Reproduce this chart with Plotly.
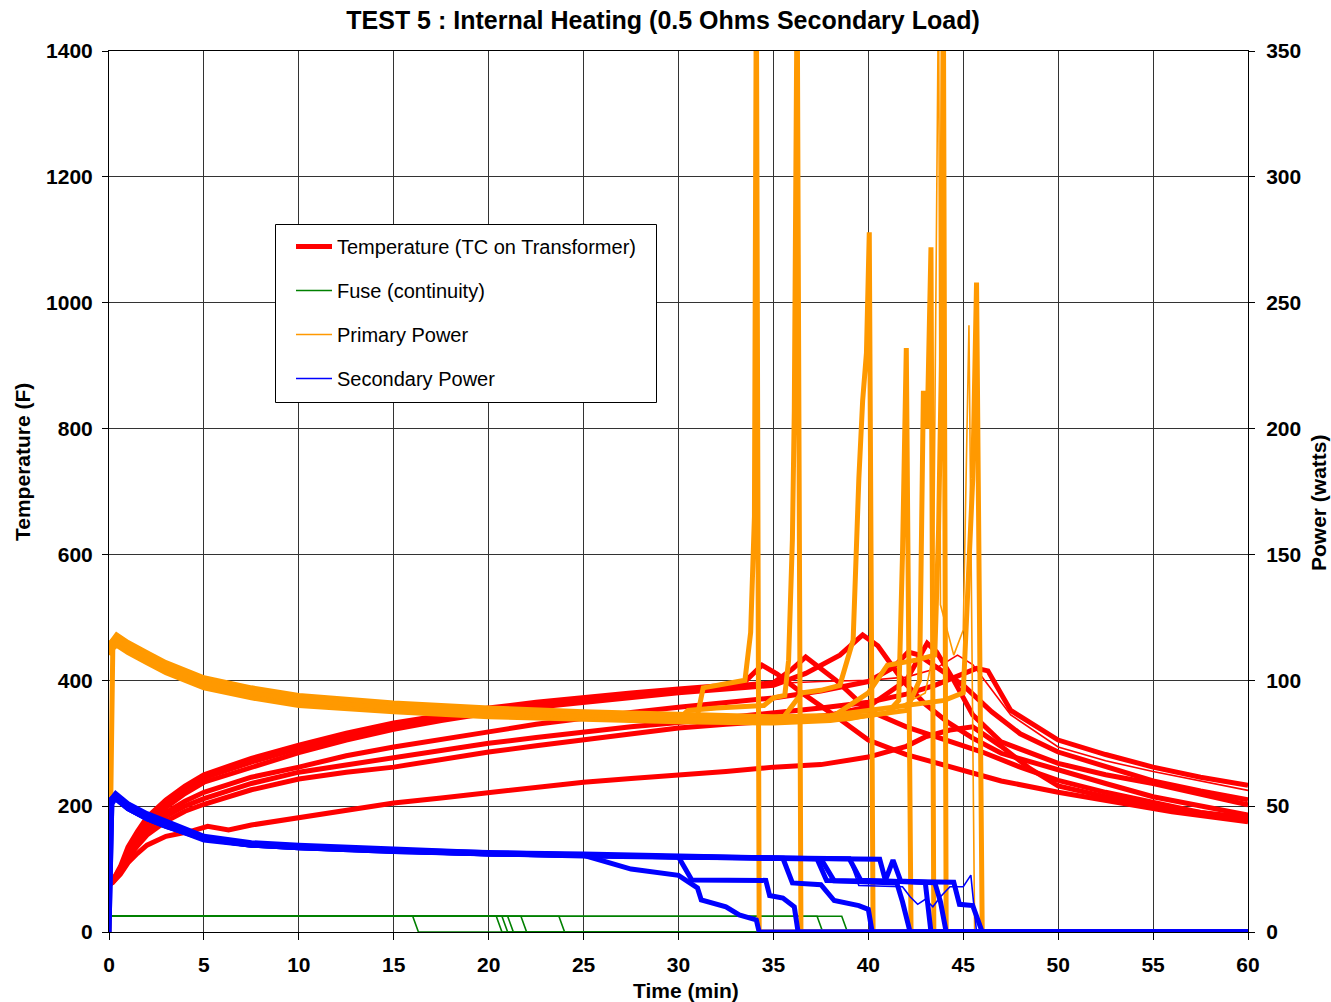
import plotly.graph_objects as go

# ---------------- DATA ----------------
# Temperature (F) per test: time (min), value
temp1_t = [0, 0.2, 0.6, 1, 1.5, 2, 3, 4, 5, 7.5, 10, 12.5, 15, 17.5, 20, 22.5, 25, 27.5, 30, 32, 33.5, 34.4, 35.2, 36.5, 38.5, 40, 42, 44.5, 47, 50, 53, 56, 60]
temp1_v = [78, 82, 104, 135, 160, 182, 210, 232, 250, 276, 297, 316, 332, 345, 356, 365, 373, 380, 386, 391, 398, 424, 410, 380, 338, 305, 282, 260, 240, 222, 206, 191, 175]
temp2_t = [0, 0.2, 0.6, 1, 1.5, 2, 3, 4, 5, 7.5, 10, 12.5, 15, 17.5, 20, 22.5, 25, 27.5, 30, 32.5, 35, 36, 36.7, 38.3, 40, 42, 44, 46, 48, 50, 52.5, 55, 57.5, 60]
temp2_v = [76, 80, 100, 130, 155, 178, 205, 228, 245, 270, 292, 311, 328, 341, 353, 362, 370, 377, 384, 390, 396, 418, 437, 400, 352, 326, 306, 286, 262, 241, 222, 205, 190, 178]
temp3_t = [0, 0.2, 0.6, 1, 1.5, 2, 3, 4, 5, 7.5, 10, 12.5, 15, 17.5, 20, 22.5, 25, 27.5, 30, 32.5, 35, 36.7, 38.5, 39.7, 40.5, 41.8, 43, 44.2, 45.5, 47, 50, 52.5, 55, 57.5, 60]
temp3_v = [77, 81, 102, 128, 152, 172, 198, 220, 238, 262, 285, 305, 322, 336, 348, 357, 365, 373, 380, 386, 392, 411, 440, 472, 455, 400, 362, 333, 308, 284, 257, 236, 215, 200, 186]
temp4_t = [0, 0.2, 0.6, 1, 1.5, 2, 3, 4, 5, 7.5, 10, 12.5, 15, 17.5, 20, 22.5, 25, 27.5, 30, 32.5, 35, 37.5, 40, 41.3, 42.1, 42.6, 43.6, 45, 46.5, 48, 50, 52.5, 55, 57.5, 60]
temp4_v = [75, 80, 98, 122, 145, 165, 190, 208, 222, 246, 262, 280, 294, 307, 318, 330, 340, 349, 357, 365, 372, 383, 398, 420, 445, 441, 421, 392, 350, 315, 286, 262, 240, 224, 210]
temp5_t = [0, 0.2, 0.6, 1, 1.5, 2, 3, 4, 5, 7.5, 10, 12.5, 15, 17.5, 20, 22.5, 25, 27.5, 30, 32.5, 35, 38, 40, 42, 43.1, 43.6, 44.5, 45.5, 47, 50, 52.5, 55, 57.5, 60]
temp5_v = [76, 79, 95, 117, 137, 154, 176, 192, 203, 226, 243, 254, 262, 275, 286, 296, 305, 315, 324, 330, 335, 345, 358, 400, 459, 445, 400, 345, 302, 268, 250, 236, 218, 202]
temp6_t = [0, 0.2, 0.6, 1, 1.5, 2, 3, 4.3, 5.2, 6.3, 7.5, 10, 12.5, 15, 17.5, 20, 22.5, 25, 27.5, 30, 32.5, 35, 37.5, 40, 42, 43, 44.3, 45.5, 47, 48.5, 50, 52.5, 55, 57.5, 60]
temp6_v = [75, 79, 92, 110, 125, 138, 152, 160, 168, 162, 170, 182, 193, 205, 213, 222, 230, 238, 244, 249, 255, 262, 266, 278, 295, 310, 321, 326, 295, 260, 232, 215, 200, 190, 182]
temp7_t = [0, 0.2, 0.6, 1, 1.5, 2, 3, 4, 5, 7.5, 10, 12.5, 15, 17.5, 20, 22.5, 25, 27.5, 30, 32.5, 35, 37.5, 40, 42, 43.5, 45, 45.7, 46.3, 47.5, 50, 52.5, 55, 57.5, 60]
temp7_v = [76, 80, 96, 120, 142, 160, 184, 200, 212, 236, 254, 266, 276, 289, 300, 309, 318, 326, 333, 340, 348, 356, 365, 378, 392, 410, 419, 415, 352, 305, 282, 262, 246, 233]
temp8_t = [0, 0.2, 0.6, 1, 1.5, 2, 3, 4, 5, 7.5, 10, 12.5, 15, 17.5, 20, 22.5, 25, 27.5, 30, 32.5, 35, 37.5, 40, 42, 43.5, 44.7, 45.5, 46.5, 47.5, 50, 52.5, 55, 57.5, 60]
temp8_v = [77, 81, 103, 133, 158, 180, 207, 230, 247, 273, 294, 313, 329, 342, 354, 363, 371, 378, 385, 390, 395, 398, 400, 405, 418, 440, 425, 385, 345, 294, 272, 255, 240, 225]

# Fuse continuity (plotted on temperature axis): level, drop start/end times
fuse_level = 25
fuse_drop_start = [16.0, 20.4, 20.7, 21.0, 21.7, 23.7, 37.3, 38.6]
fuse_drop_end = [16.3, 20.7, 21.0, 21.3, 22.0, 24.0, 37.6, 38.9]

# Primary power (watts)
prim1_t = [0, 0.2, 0.4, 1, 2, 3, 5, 7.5, 10, 15, 20, 25, 30, 31, 31.3, 33.5, 33.8, 34.0, 34.1, 34.25, 60]
prim1_v = [0, 113, 117, 114, 110, 106, 100, 96, 93, 90, 88, 86.5, 85.5, 86, 97, 100, 119, 165, 380, 0, 0]
prim2_t = [0, 0.1, 0.4, 1, 2, 3, 5, 7.5, 10, 15, 20, 25, 30, 30.5, 32, 34.5, 35, 35.6, 35.8, 36.0, 36.1, 36.25, 36.45, 60]
prim2_v = [112, 114, 116, 113, 109, 105, 99, 95, 92, 89, 87, 85.5, 84.5, 88, 89, 90, 93, 94, 108, 156, 207, 380, 0, 0]
prim3_t = [0, 0.1, 0.4, 1, 2, 3, 5, 7.5, 10, 15, 20, 25, 30, 33, 35.5, 36.5, 37.5, 38.5, 39.2, 39.5, 39.7, 39.9, 40.05, 40.25, 60]
prim3_v = [111, 113, 115, 112, 108, 104, 98, 94, 91, 88, 86, 85, 84, 84, 85, 95, 96, 98, 116, 180, 211, 230, 278, 0, 0]
prim4_t = [0, 0.1, 0.4, 1, 2, 3, 5, 7.5, 10, 15, 20, 25, 30, 35, 38, 40, 41, 41.6, 41.8, 42.0, 42.25, 60]
prim4_v = [113, 115, 117, 114, 110, 106, 100, 96, 93, 90, 88, 86.5, 85.5, 85, 85.5, 86, 87, 92, 150, 232, 0, 0]
prim5_t = [0, 0.1, 0.4, 1, 2, 3, 5, 7.5, 10, 15, 20, 25, 30, 35, 38, 40, 42, 42.7, 42.9, 43.1, 43.3, 43.45, 60]
prim5_v = [110, 112, 114, 111, 107, 103, 97, 93, 90, 87.5, 85.5, 84.5, 83.5, 83, 84, 86, 88, 100, 215, 200, 272, 0, 0]
prim6_t = [0, 0.1, 0.4, 1, 2, 3, 5, 7.5, 10, 15, 20, 25, 30, 35, 38, 40, 41, 42.5, 43.5, 43.7, 43.85, 43.95, 44.1, 60]
prim6_v = [112, 114, 116, 113, 109, 105, 99, 95, 92, 89, 87, 86, 85, 84.5, 85, 95, 106, 108, 110, 160, 226, 380, 0, 0]
prim7_t = [0, 0.1, 0.4, 1, 2, 3, 5, 7.5, 10, 15, 20, 25, 30, 35, 38, 40, 42, 44, 45, 45.5, 45.7, 46.0, 60]
prim7_v = [113, 115, 118, 115, 111, 107, 101, 97, 94, 91, 89, 87.5, 86.5, 85.5, 86, 88, 90, 92, 95, 180, 258, 0, 0]
prim8_t = [0, 0.1, 0.4, 1, 2, 3, 5, 7.5, 10, 15, 20, 25, 30, 35, 39, 41, 43, 43.4, 43.7, 43.8, 44.5, 45.0, 45.3, 45.6, 60]
prim8_v = [111, 113, 115, 112, 108, 104, 98, 94, 91, 88, 86, 85, 84, 83.5, 84, 87, 95, 110, 380, 130, 110, 120, 241, 0, 0]

# Secondary power (watts)
sec1_t = [0, 0.15, 0.35, 1, 2, 3, 5, 7.5, 10, 15, 20, 25, 27.5, 30, 31, 31.2, 32.5, 33.2, 34.1, 34.25, 60]
sec1_v = [0, 52, 54, 50, 46, 43, 37.5, 35, 34, 32.5, 31.2, 30.5, 25, 22.5, 17.5, 12.7, 10, 6.8, 4.8, 0, 0]
sec2_t = [0, 0.15, 0.35, 1, 2, 3, 5, 7.5, 10, 15, 20, 25, 30, 30.7, 34.6, 34.8, 35.5, 36.1, 36.3, 60]
sec2_v = [51, 52, 53, 49, 45, 42, 37, 34.5, 33.5, 32, 31, 30.5, 29.8, 20.7, 20.5, 14.5, 13.5, 10, 0, 0]
sec3_t = [0, 0.15, 0.35, 1, 2, 3, 5, 7.5, 10, 15, 20, 25, 30, 35.5, 36, 37.5, 38.2, 39.5, 40.0, 40.2, 60]
sec3_v = [52, 53, 55, 51, 47, 44, 38, 35.5, 34.5, 33, 31.5, 31, 30, 29.3, 19.5, 18.8, 12.5, 10.5, 9, 0, 0]
sec4_t = [0, 0.15, 0.35, 1, 2, 3, 5, 7.5, 10, 15, 20, 25, 30, 35, 37.5, 38.2, 41.5, 41.8, 42.2, 60]
sec4_v = [0, 51, 53, 49, 45, 42, 37, 34.5, 33.5, 32, 31, 30.5, 29.8, 29.3, 29.1, 20.3, 19.5, 12, 0, 0]
sec5_t = [0, 0.15, 0.35, 1, 2, 3, 5, 7.5, 10, 15, 20, 25, 30, 35, 40.6, 40.9, 41.3, 41.7, 43.0, 43.3, 60]
sec5_v = [50, 52, 53, 49, 45, 42, 36.5, 34.5, 33.5, 32, 31, 30.2, 29.7, 29.2, 28.9, 20.5, 28.6, 20.3, 19.7, 0, 0]
sec6_t = [0, 0.15, 0.35, 1, 2, 3, 5, 7.5, 10, 15, 20, 25, 30, 35, 39, 39.6, 43.5, 43.8, 44.1, 60]
sec6_v = [51, 53, 54, 50, 46, 43, 37.5, 35, 34, 32.5, 31.3, 30.6, 29.9, 29.4, 29.1, 20.6, 19.6, 12, 0, 0]
sec7_t = [0, 0.15, 0.35, 1, 2, 3, 5, 7.5, 10, 15, 20, 25, 30, 35, 37.3, 37.8, 44.5, 44.8, 45.5, 46.0, 60]
sec7_v = [52, 53, 54, 50, 46, 43, 37.5, 35, 34, 32.3, 31, 30.4, 29.6, 29.1, 29, 20.5, 19.8, 11, 10.5, 0, 0]
sec8_t = [0, 0.15, 0.35, 1, 2, 3, 5, 7.5, 10, 15, 20, 25, 30, 35, 39, 39.5, 41.8, 42.2, 42.6, 43, 43.4, 43.8, 44.3, 45.0, 45.4, 45.7, 60]
sec8_v = [51, 52, 53, 49, 45, 42, 37, 34.5, 33.5, 32, 31, 30.4, 29.5, 29, 28.8, 18.5, 18, 14, 11, 13, 10, 14, 18, 18, 22.6, 0, 0]

x_ticks = [0, 5, 10, 15, 20, 25, 30, 35, 40, 45, 50, 55, 60]
temp_ticks = [0, 200, 400, 600, 800, 1000, 1200, 1400]
power_ticks = [0, 50, 100, 150, 200, 250, 300, 350]

# ---------------- STYLE ----------------
RED = "#FF0000"
GREEN = "#008000"
ORANGE = "#FF9900"
BLUE = "#0000FF"
THICK = 5
THIN = 1.6
FONT = "Liberation Sans, Arial, sans-serif"

# plot-area pixel geometry
L, R, T, B = 109, 1248, 51, 932
W_PLOT = R - L
H_PLOT = B - T


def px_x(px):
    return (px - L) / W_PLOT


def px_y(py):
    return (B - py) / H_PLOT


temps = [(temp1_t, temp1_v, THICK), (temp2_t, temp2_v, THICK), (temp3_t, temp3_v, THICK),
         (temp4_t, temp4_v, THICK), (temp5_t, temp5_v, THICK), (temp6_t, temp6_v, THICK),
         (temp7_t, temp7_v, THICK), (temp8_t, temp8_v, THIN)]
prims = [(prim1_t, prim1_v, THICK), (prim2_t, prim2_v, THICK), (prim3_t, prim3_v, THICK),
         (prim4_t, prim4_v, THICK), (prim5_t, prim5_v, THICK), (prim6_t, prim6_v, THICK),
         (prim7_t, prim7_v, THICK), (prim8_t, prim8_v, THIN)]
secs = [(sec1_t, sec1_v, THICK), (sec2_t, sec2_v, THICK), (sec3_t, sec3_v, THICK),
        (sec4_t, sec4_v, THICK), (sec5_t, sec5_v, THICK), (sec6_t, sec6_v, THICK),
        (sec7_t, sec7_v, THICK), (sec8_t, sec8_v, THIN)]

fig = go.Figure()

for t, v, w in temps:
    fig.add_trace(go.Scatter(x=t, y=v, mode="lines", line=dict(color=RED, width=w),
                             showlegend=False, yaxis="y", hoverinfo="skip"))

for ts, te in zip(fuse_drop_start, fuse_drop_end):
    fig.add_trace(go.Scatter(x=[0, ts, te, 60], y=[fuse_level, fuse_level, 0, 0], mode="lines",
                             line=dict(color=GREEN, width=1.6), showlegend=False,
                             yaxis="y", hoverinfo="skip"))

for t, v, w in prims:
    fig.add_trace(go.Scatter(x=t, y=v, mode="lines", line=dict(color=ORANGE, width=w),
                             showlegend=False, yaxis="y2", hoverinfo="skip"))

for t, v, w in secs:
    fig.add_trace(go.Scatter(x=t, y=v, mode="lines", line=dict(color=BLUE, width=w),
                             showlegend=False, yaxis="y2", hoverinfo="skip"))

# legend entries
legend_items = [("Temperature (TC on Transformer)", RED, 5),
                ("Fuse (continuity)", GREEN, 1.6),
                ("Primary Power", ORANGE, 1.6),
                ("Secondary Power", BLUE, 1.6)]
for i, (name, col, w) in enumerate(legend_items):
    fig.add_trace(go.Scatter(x=[None], y=[None], mode="lines", name=name,
                             line=dict(color=col, width=w), legendgroup=f"g{i}",
                             showlegend=True))

axis_font = dict(family=FONT, size=21, color="black", weight="bold")
title_font = dict(family=FONT, size=21, color="black")

fig.update_layout(
    width=1331, height=1002,
    margin=dict(l=L, r=1331 - R, t=T, b=1002 - B),
    paper_bgcolor="white", plot_bgcolor="white",
    font=dict(family=FONT, color="black"),
    title=dict(text="<b>TEST 5 : Internal Heating (0.5 Ohms Secondary Load)</b>",
               font=dict(family=FONT, size=25, color="black"),
               x=663 / 1331, xref="container", xanchor="center",
               y=1 - 20 / 1002, yref="container", yanchor="middle"),
    xaxis=dict(range=[0, 60], tickvals=x_ticks, ticks="outside", ticklen=7, tickcolor="black",
               showgrid=True, gridcolor="#333333", gridwidth=1, zeroline=False,
               showline=True, linecolor="black", linewidth=1, mirror=True,
               tickfont=axis_font, ticklabelstandoff=7),
    yaxis=dict(range=[0, 1400], tickvals=temp_ticks, ticks="outside", ticklen=6, tickcolor="black",
               showgrid=True, gridcolor="#333333", gridwidth=1, zeroline=False,
               showline=True, linecolor="black", linewidth=1, mirror=True,
               tickfont=axis_font, ticklabelstandoff=5),
    yaxis2=dict(range=[0, 350], tickvals=power_ticks, ticks="outside", ticklen=6, tickcolor="black",
                overlaying="y", side="right", showgrid=False, zeroline=False,
                showline=True, linecolor="black", linewidth=1,
                tickfont=axis_font, ticklabelstandoff=7),
    legend=dict(x=px_x(291), y=px_y(227), xanchor="left", yanchor="top",
                bgcolor="rgba(0,0,0,0)", borderwidth=0,
                font=dict(family=FONT, size=20, color="black"),
                traceorder="grouped", tracegroupgap=15, itemwidth=36),
    shapes=[dict(type="rect", xref="paper", yref="paper",
                 x0=px_x(275.5), x1=px_x(656.5), y0=px_y(402.5), y1=px_y(224.5),
                 line=dict(color="black", width=1), fillcolor="white", layer="above")],
    annotations=[
        dict(text="<b>Temperature (F)</b>", x=px_x(23), y=px_y(462), xref="paper", yref="paper",
             xanchor="center", yanchor="middle",
             showarrow=False, textangle=-90, font=title_font),
        dict(text="<b>Power (watts)</b>", x=px_x(1318), y=px_y(503), xref="paper", yref="paper",
             xanchor="center", yanchor="middle",
             showarrow=False, textangle=-90, font=title_font),
        dict(text="<b>Time (min)</b>", x=px_x(686), y=px_y(990), xref="paper", yref="paper",
             xanchor="center", yanchor="middle",
             showarrow=False, font=title_font),
    ],
)

fig.write_html("out.html")
